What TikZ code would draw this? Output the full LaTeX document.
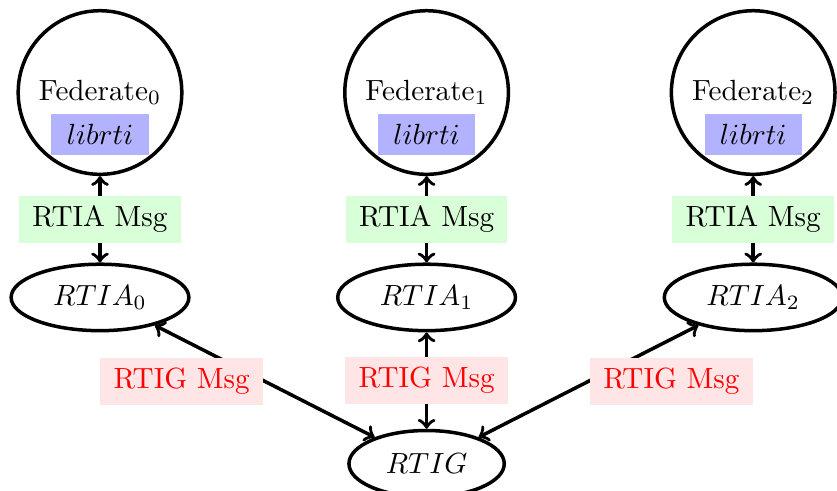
\documentclass[tikz,border=0pt]{standalone}
\usepackage{amssymb,latexsym}
\usetikzlibrary{matrix,arrows,shapes.geometric,positioning,calc}

\tikzset{
  fed/.style={circle, draw, very thick, minimum size=1.97cm, inner sep=0pt},
  rtia/.style={ellipse, draw, very thick, minimum width=2.14cm, minimum height=0.80cm, inner sep=0pt},
  rtig/.style={ellipse, draw, very thick, minimum width=1.87cm, minimum height=0.80cm, inner sep=0pt},
  lib/.style={fill=blue!30, minimum width=1.17cm, minimum height=0.50cm, inner sep=0pt},
  rtiamsg/.style={fill=green!15, inner xsep=4.5pt, inner ysep=3.4pt},
  rtigmsg/.style={fill=red!10, text=red, inner xsep=4.5pt, inner ysep=3.4pt}
}

\begin{document}
\begin{tikzpicture}
  \matrix (m) [matrix of nodes, row sep=1.04cm, column sep=1.75cm]
  {
|[fed]| Federate$_0$ & |[fed]| Federate$_1$ & |[fed]| Federate$_2$ \\
|[rtia]| $RTIA_0$ & |[rtia]| $RTIA_1$ & |[rtia]| $RTIA_2$ \\[0.12cm]
 & |[rtig]| $RTIG$ & \\  };
  \node[lib, below=0.25cm of m-1-1.center] (lib0) {$librti$};
  \node[lib, below=0.25cm of m-1-2.center] (lib1) {$librti$};
  \node[lib, below=0.25cm of m-1-3.center] (lib2) {$librti$};
  \path[<->, very thick]
  (m-1-1) edge node [rtiamsg] (a0) {RTIA Msg} (m-2-1)
  (m-1-2) edge node [rtiamsg] (a1) {RTIA Msg} (m-2-2)
  (m-1-3) edge node [rtiamsg] (a2) {RTIA Msg} (m-2-3)
  (m-2-1) edge node [rtigmsg, left] (g0) {RTIG Msg} (m-3-2)
  (m-2-2) edge node [rtigmsg] (g1) {RTIG Msg} (m-3-2)
  (m-3-2) edge node [rtigmsg, right] (g2) {RTIG Msg} (m-2-3)
;
  % crop the page round the drawing
  \pgfresetboundingbox
  \useasboundingbox ($(m-1-1.center)+(-1.204,1.114)$) rectangle ($(m-1-1.center)+(8.873,-4.786)$);
\end{tikzpicture}
\end{document}
